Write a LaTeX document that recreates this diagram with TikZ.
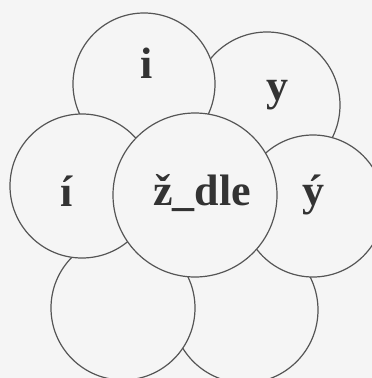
\documentclass[tikz,border=0pt]{standalone}
\usepackage{fontspec}
\setmainfont{Liberation Serif}
\definecolor{bgc}{HTML}{F5F5F5}
\definecolor{linec}{HTML}{555555}
\definecolor{txtc}{HTML}{333333}
\begin{document}
\begin{tikzpicture}[x=1pt,y=-1pt,
  petal/.style={circle,draw=linec,line width=1.2pt,fill=bgc,inner sep=0pt},
  lbl/.style={anchor=base,font=\fontsize{44}{44}\selectfont\bfseries,text=txtc,inner sep=0pt}]
\fill[bgc] (0,0) rectangle (372,378);
\useasboundingbox (0,0) rectangle (372,378);
\begin{scope}
\clip (0,0) rectangle (372,378);
\node[petal,minimum size=146pt] (cy) at (267,105) {};
\node[petal,minimum size=146pt] (cbr) at (245,310) {};
\node[petal,minimum size=144pt] (cbl) at (123,308) {};
\node[petal,minimum size=142pt] (ci) at (144,84) {};
\node[petal,minimum size=144pt] (cii) at (82,186) {};
\node[petal,minimum size=142pt] (cyy) at (313,206) {};
\node[petal,minimum size=164pt] (cc) at (195,195) {};
\end{scope}
\node[lbl] (ti) at (147,78) {i};
\node[lbl] (ty) at (277,100) {y};
\node[lbl] (tc) at (202,205) {ž\_dle};
\node[lbl] (tii) at (67,206) {í};
\node[lbl] (tyy) at (313,205) {ý};
\end{tikzpicture}
\end{document}
